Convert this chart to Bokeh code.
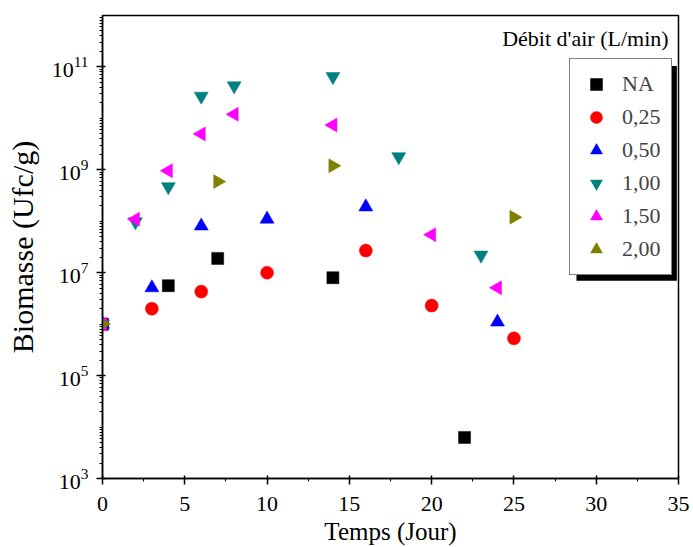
import math
from bokeh.plotting import figure
from bokeh.models import (FixedTicker, LogTickFormatter, Legend, LegendItem,
                          Label, BoxAnnotation, Range1d)
from bokeh.embed import file_html
from bokeh.resources import INLINE

# Biomass (Ufc/g) versus time (days) for each air flow rate (L/min)
days_na = [0, 4, 7, 14, 22]
bio_na = [1.0e6, 5.6e6, 1.9e7, 8.0e6, 6.3e3]

days_025 = [0, 3, 6, 10, 16, 20, 25]
bio_025 = [1.0e6, 2.0e6, 4.3e6, 1.0e7, 2.7e7, 2.3e6, 5.3e5]

days_050 = [0, 3, 6, 10, 16, 24]
bio_050 = [1.0e6, 5.1e6, 8.1e7, 1.1e8, 1.9e8, 1.1e6]

days_100 = [0, 2, 4, 6, 8, 14, 18, 23]
bio_100 = [1.0e6, 9.8e7, 4.7e8, 2.7e10, 4.3e10, 6.5e10, 1.8e9, 2.2e7]

days_150 = [0, 2, 4, 6, 8, 14, 20, 24]
bio_150 = [1.0e6, 1.1e8, 9.6e8, 5.0e9, 1.2e10, 7.4e9, 5.5e7, 5.1e6]

days_200 = [0, 7, 14, 25]
bio_200 = [1.0e6, 5.9e8, 1.2e9, 1.2e8]

series_labels = ["NA", "0,25", "0,50", "1,00", "1,50", "2,00"]
x_ticks = [0, 5, 10, 15, 20, 25, 30, 35]
y_ticks = [1e3, 1e5, 1e7, 1e9, 1e11]

FONT = "Liberation Serif"

p = figure(width=693, height=547, y_axis_type="log",
           x_range=Range1d(0, 35), y_range=Range1d(1e3, 1e12),
           output_backend="svg", toolbar_location=None,
           min_border_left=102, min_border_right=15,
           min_border_top=15, min_border_bottom=69)
p.grid.visible = False
p.outline_line_color = "black"
p.outline_line_width = 1.5
p.background_fill_color = "white"
p.border_fill_color = "white"

styles = [
    (days_na, bio_na, "square", 0.0, "black", 12),
    (days_025, bio_025, "circle", 0.0, "red", 13),
    (days_050, bio_050, "triangle", 0.0, "blue", 14),
    (days_100, bio_100, "inverted_triangle", 0.0, "#008080", 14),
    (days_150, bio_150, "triangle", math.pi / 2, "magenta", 14),
    (days_200, bio_200, "triangle", -math.pi / 2, "#808000", 14),
]

items = []
for (xs, ys, marker, ang, col, sz), lab in zip(styles, series_labels):
    r = p.scatter(xs, ys, marker=marker, angle=ang, size=sz,
                  fill_color=col, line_color=col, line_width=0.5)
    items.append(LegendItem(label=lab, renderers=[r]))

# x axis
xa = p.xaxis[0]
xa.ticker = FixedTicker(ticks=x_ticks,
                        minor_ticks=[v + 2.5 for v in x_ticks[:-1]])
xa.axis_label = "Temps (Jour)"
# y axis with minor ticks at every k*10^n
ya = p.yaxis[0]
minor = []
for d in range(3, 12):
    for k in range(1, 10):
        v = k * 10 ** d
        if v not in y_ticks:
            minor.append(v)
ya.ticker = FixedTicker(ticks=y_ticks, minor_ticks=minor)
ya.formatter = LogTickFormatter()
ya.axis_label = "Biomasse (Ufc/g)"

for ax in (xa, ya):
    ax.axis_line_width = 1.5
    ax.major_tick_line_width = 1.5
    ax.minor_tick_line_width = 1
    ax.major_tick_out = 6
    ax.major_tick_in = 3
    ax.minor_tick_out = 3
    ax.minor_tick_in = 0
    ax.major_label_text_font = FONT
    ax.major_label_text_font_size = "22px"
    ax.major_label_text_color = "black"
    ax.axis_label_text_font = FONT
    ax.axis_label_text_font_style = "normal"
    ax.axis_label_text_color = "black"
xa.axis_label_text_font_size = "25px"
ya.axis_label_text_font_size = "30px"
xa.major_label_standoff = 12
xa.axis_label_standoff = 4
ya.major_label_standoff = 8
ya.axis_label_standoff = 10

# legend title placed inside the frame, top right
p.add_layout(Label(x=34.4, y=3.5e11, text="Débit d'air (L/min)",
                   text_font=FONT, text_font_size="22px",
                   text_align="right", text_baseline="middle",
                   text_color="black"))

# drop shadow behind the legend box
p.add_layout(BoxAnnotation(left=28.8, right=34.9,
                           bottom=10 ** ((478 - 280) / 51.5 + 3),
                           top=10 ** ((478 - 65) / 51.5 + 3),
                           fill_color="black", fill_alpha=1, line_alpha=0,
                           level="overlay"))

legend = Legend(items=items, location=(467, 203),
                border_line_color="black", border_line_width=1,
                background_fill_color="white", background_fill_alpha=1,
                label_text_font=FONT, label_text_font_size="22px",
                glyph_width=32, glyph_height=30, label_standoff=10,
                spacing=3, padding=10, margin=0, label_height=30)
p.add_layout(legend)

open("out.html", "w").write(file_html(p, INLINE))
